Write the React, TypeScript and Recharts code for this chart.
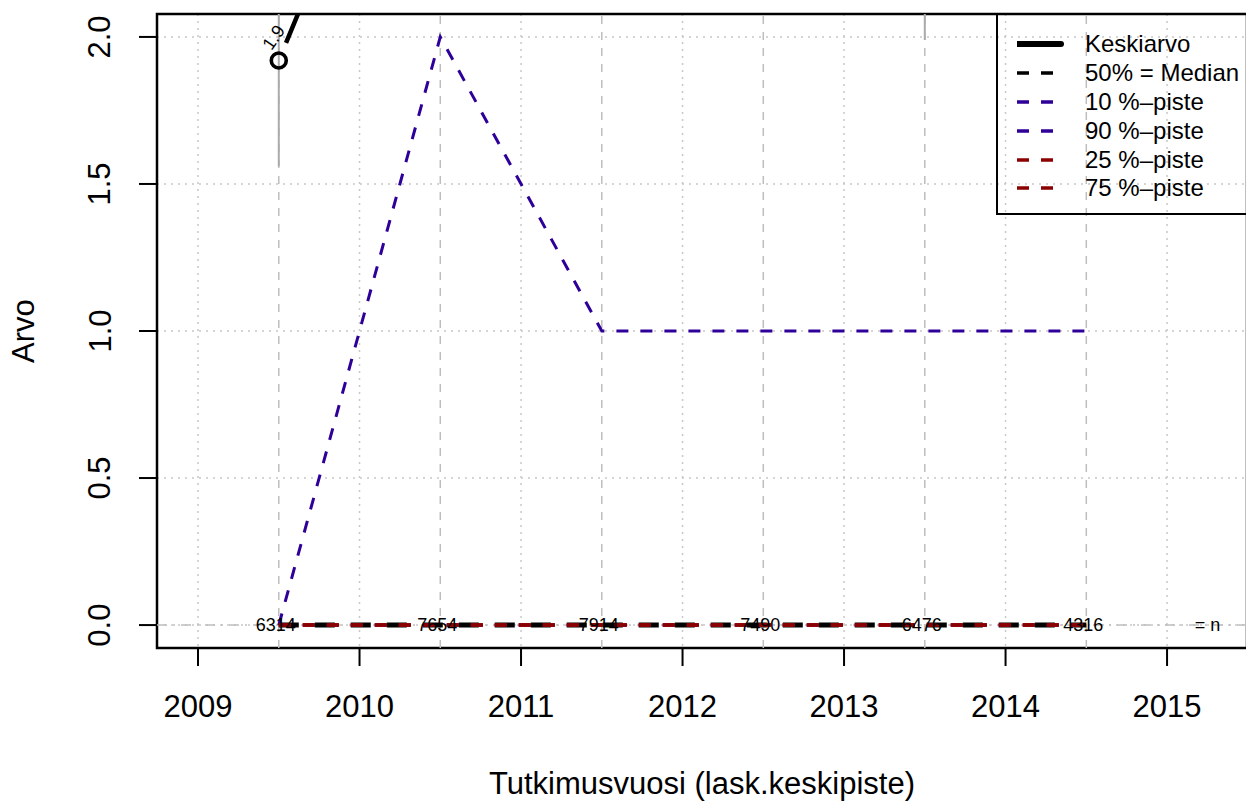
import React from "react";
import {
  ComposedChart,
  Line,
  XAxis,
  YAxis,
  CartesianGrid,
  ReferenceLine,
  ReferenceArea,
  ReferenceDot,
  LabelList,
} from "recharts";

// ── Data ──────────────────────────────────────────────────────────────────────
const years = [2009.5, 2010.5, 2011.5, 2012.5, 2013.5, 2014.5];
const keskiarvo = [1.92, 3.25, 3.5, 3.3, 2.9, 3.1];
const ciLow = [1.56, 2.6, 2.8, 2.6, 1.99, 2.3];
const ciHigh = [2.3, 3.9, 4.2, 4.0, 3.8, 3.9];
const median = [0, 0, 0, 0, 0, 0];
const p10 = [0, 0, 0, 0, 0, 0];
const p90 = [0, 2, 1, 1, 1, 1];
const p25 = [0, 0, 0, 0, 0, 0];
const p75 = [0, 0, 0, 0, 0, 0];
const nCounts = [6314, 7654, 7914, 7490, 6476, 4316];

const xTicks = [2009, 2010, 2011, 2012, 2013, 2014, 2015];
const yTicks = [0, 0.5, 1, 1.5, 2];
const xDomain: [number, number] = [2008.746, 2015.495];
const yDomain: [number, number] = [-0.078, 2.078];
const nLabelX = 2015.25;

const data = years.map((year, i) => ({
  year,
  mean: keskiarvo[i],
  median: median[i],
  p10: p10[i],
  p90: p90[i],
  p25: p25[i],
  p75: p75[i],
  n: nCounts[i],
}));

const FONT = "'Liberation Sans', Arial, Helvetica, sans-serif";
const BLUE = "#2E0099";
const RED = "#8B0000";

// draw order: mean first, quantiles after; legend keeps this order
// (mean line starts a little away from its point, like R's type="b")
const series = [
  { key: "mean", name: "Keskiarvo", color: "#000", width: 4.5, dash: "0 19 100000", legendWidth: 6 },
  { key: "median", name: "50% = Median", color: "#000", width: 5, dash: "20 16", legendWidth: 3.5 },
  { key: "p10", name: "10 %\u2013piste", color: BLUE, width: 3, dash: "12 12", legendWidth: 3.5 },
  { key: "p90", name: "90 %\u2013piste", color: BLUE, width: 3, dash: "12 12", legendWidth: 3.5 },
  { key: "p25", name: "25 %\u2013piste", color: RED, width: 3.5, dash: "12 12", legendWidth: 3.5 },
  { key: "p75", name: "75 %\u2013piste", color: RED, width: 3.5, dash: "12 12", legendWidth: 3.5 },
];

// ── Ticks & labels ────────────────────────────────────────────────────────────
function XTick({ x, y, payload }: any) {
  return (
    <text x={x} y={y + 38} textAnchor="middle" dominantBaseline="central" fontSize={31} fill="#000" fontFamily={FONT}>
      {payload.value}
    </text>
  );
}

function YTick({ x, y, payload }: any) {
  const cx = x - 37;
  return (
    <text
      x={cx}
      y={y}
      transform={`rotate(-90, ${cx}, ${y})`}
      textAnchor="middle"
      dominantBaseline="central"
      fontSize={31}
      fill="#000"
      fontFamily={FONT}
    >
      {Number(payload.value).toFixed(1)}
    </text>
  );
}

function MeanDot({ cx, cy }: any) {
  if (cx == null || cy == null) return null;
  return <circle cx={cx} cy={cy} r={7.5} fill="none" stroke="#000" strokeWidth={3.6} />;
}

function MeanLabel({ x, y, value }: any) {
  if (value > yDomain[1]) return null;
  const lx = x - 5;
  const ly = y - 23;
  return (
    <text
      x={lx}
      y={ly}
      transform={`rotate(-55, ${lx}, ${ly})`}
      textAnchor="middle"
      dominantBaseline="central"
      fontSize={18}
      fill="#000"
      fontFamily={FONT}
    >
      {Number(value).toFixed(1)}
    </text>
  );
}

function NLabel({ x, y, value }: any) {
  return (
    <text x={x - 3} y={y} textAnchor="middle" dominantBaseline="central" fontSize={18} fill="#000" fontFamily={FONT}>
      {value}
    </text>
  );
}

// ── Legend (overlay, transparent like the base-R one) ─────────────────────────
function LegendBox() {
  return (
    <div
      style={{
        position: "absolute",
        left: 996,
        top: 13,
        width: 260,
        height: 202,
        border: "2px solid #000",
        boxSizing: "border-box",
        paddingTop: 15,
        fontFamily: FONT,
        fontSize: 24,
      }}
    >
      {series.map((s) => (
        <div key={s.key} style={{ display: "flex", alignItems: "center", height: 28.8 }}>
          <svg width={68} height={20} style={{ marginLeft: 19, flex: "none" }}>
            <line
              x1={0}
              x2={44}
              y1={10}
              y2={10}
              stroke={s.color}
              strokeWidth={s.legendWidth}
              strokeDasharray={s.key === "mean" ? undefined : "12 12"}
              strokeLinecap={s.key === "mean" ? "round" : "butt"}
            />
          </svg>
          <span style={{ lineHeight: 1, whiteSpace: "nowrap" }}>{s.name}</span>
        </div>
      ))}
    </div>
  );
}

// ── Component ─────────────────────────────────────────────────────────────────
export default function App() {
  return (
    <div
      style={{
        position: "absolute",
        left: 0,
        top: 0,
        width: 1246,
        height: 803,
        overflow: "hidden",
        background: "#fff",
        fontFamily: FONT,
      }}
    >
      <ComposedChart width={1250} height={803} data={data} margin={{ top: 14, right: 3, bottom: 55, left: 57 }}>
        <CartesianGrid stroke="#C8C8C8" strokeDasharray="2 5" strokeWidth={1.5} />
        <XAxis
          dataKey="year"
          type="number"
          domain={xDomain}
          ticks={xTicks}
          allowDataOverflow
          height={100}
          tickSize={18}
          axisLine={false}
          tickLine={{ stroke: "#000", strokeWidth: 2 }}
          tick={<XTick />}
          label={{
            value: "Tutkimusvuosi (lask.keskipiste)",
            content: ({ viewBox }: any) => (
              <text
                x={viewBox.x + viewBox.width / 2}
                y={viewBox.y + 135}
                textAnchor="middle"
                dominantBaseline="central"
                fontSize={31}
                fill="#000"
                fontFamily={FONT}
              >
                Tutkimusvuosi (lask.keskipiste)
              </text>
            ),
          }}
        />
        <YAxis
          type="number"
          domain={yDomain}
          ticks={yTicks}
          allowDataOverflow
          width={100}
          tickSize={18}
          axisLine={false}
          tickLine={{ stroke: "#000", strokeWidth: 2 }}
          tick={<YTick />}
          label={{
            value: "Arvo",
            content: ({ viewBox }: any) => {
              const cx = 23;
              const cy = viewBox.y + viewBox.height / 2;
              return (
                <text
                  x={cx}
                  y={cy}
                  transform={`rotate(-90, ${cx}, ${cy})`}
                  textAnchor="middle"
                  dominantBaseline="central"
                  fontSize={31}
                  fill="#000"
                  fontFamily={FONT}
                >
                  Arvo
                </text>
              );
            },
          }}
        />

        {/* half-year guides and zero line */}
        {years.map((yr) => (
          <ReferenceLine key={`v${yr}`} x={yr} stroke="#BEBEBE" strokeWidth={1.5} strokeDasharray="8 8" />
        ))}
        <ReferenceLine y={0} stroke="#BEBEBE" strokeWidth={1.5} strokeDasharray="10 6 2 6" />

        {/* confidence interval of the mean */}
        {years.map((yr, i) => (
          <ReferenceLine
            key={`ci${yr}`}
            segment={[
              { x: yr, y: ciLow[i] },
              { x: yr, y: ciHigh[i] },
            ]}
            stroke="#AAAAAA"
            strokeWidth={2}
            ifOverflow="hidden"
          />
        ))}

        {series.map((s) => (
          <Line
            key={s.key}
            dataKey={s.key}
            type="linear"
            stroke={s.color}
            strokeWidth={s.width}
            strokeDasharray={s.dash}
            dot={s.key === "mean" ? <MeanDot /> : false}
            activeDot={false}
            isAnimationActive={false}
          >
            {s.key === "mean" && <LabelList dataKey="mean" content={<MeanLabel />} />}
            {s.key === "p75" && <LabelList dataKey="n" content={<NLabel />} />}
          </Line>
        ))}

        <ReferenceDot
          x={nLabelX}
          y={0}
          r={0}
          fill="none"
          stroke="none"
          label={{ value: "= n", position: "center", fontSize: 18, fill: "#000", fontFamily: FONT }}
        />

        {/* plot box */}
        <ReferenceArea
          x1={xDomain[0]}
          x2={xDomain[1]}
          y1={yDomain[0]}
          y2={yDomain[1]}
          fill="none"
          fillOpacity={0}
          stroke="#000"
          strokeWidth={2.5}
          ifOverflow="visible"
        />
      </ComposedChart>
      <LegendBox />
    </div>
  );
}
